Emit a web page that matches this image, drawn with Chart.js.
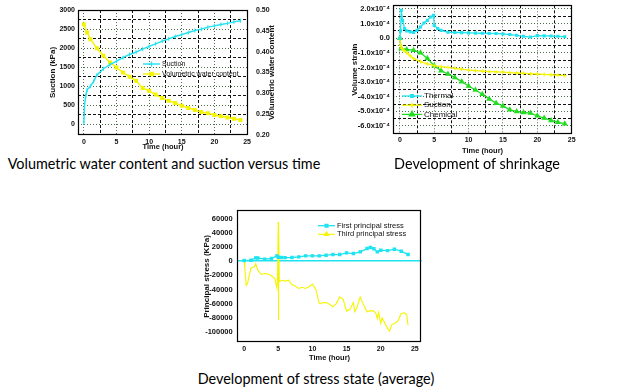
<!DOCTYPE html>
<html><head><meta charset="utf-8">
<script src="https://cdn.jsdelivr.net/npm/chart.js@4.4.0/dist/chart.umd.min.js"></script>
<style>
html,body{margin:0;padding:0;background:#fff;width:617px;height:387px;overflow:hidden;position:relative}
canvas{position:absolute}
.cap{position:absolute;font-family:Lato,'Liberation Sans',sans-serif;font-size:14.4px;color:#000;white-space:nowrap;transform:translate(-50%,-50%)}
</style></head><body>
<canvas id="c1" width="310" height="151" style="left:0;top:0"></canvas>
<canvas id="c2" width="250" height="155" style="left:330px;top:0"></canvas>
<canvas id="c3" width="235" height="157" style="left:195px;top:205px"></canvas>
<div class="cap" style="left:164px;top:163px">Volumetric water content and suction versus time</div>
<div class="cap" style="left:477px;top:163px">Development of shrinkage</div>
<div class="cap" style="left:316px;top:378px">Development of stress state (average)</div>
<script>
// ---------- Chart 1 data ----------
const c1SuctionTime = [0,0.1,0.3,0.5,1,1.5,2,3,4,5,6,7,8,9,10,11,12,13,14,15,16,17,18,19,20,21,22,23,24];
const c1Suction = [40,500,760,910,1000,1130,1300,1460,1570,1660,1750,1835,1895,1975,2045,2115,2185,2245,2305,2355,2410,2460,2500,2550,2585,2620,2650,2690,2720];
const c1VwcTime = [0,0.5,1,2,3,4,5,6,7,8,9,10,11,12,13,14,15,16,17,18,19,20,21,22,23,24];
const c1Vwc = [0.465,0.446,0.430,0.408,0.390,0.374,0.362,0.350,0.340,0.330,0.313,0.306,0.297,0.289,0.282,0.277,0.270,0.265,0.260,0.255,0.252,0.248,0.245,0.242,0.239,0.236];
const c1XTicks = [0,5,10,15,20,25];
const c1XMinor = [2.5,7.5,12.5,17.5,22.5];
const c1YTicks = [0,500,1000,1500,2000,2500,3000];
const c1YMinor = [250,750,1250,1750,2250,2750];
const c1Y2Ticks = [0.20,0.25,0.30,0.35,0.40,0.45,0.50];

// ---------- Chart 2 data (volume strain, x10^-4) ----------
const c2ThermalTime = [0,0.1,0.2,0.4,0.7,1,1.5,2,2.5,3,3.5,4,4.5,4.9,5.0,5.5,6,7,8,9,10,11,12,13,14,15,16,17,18,19,20,21,22,23,24];
const c2Thermal = [0,0.5,1.9,1.2,0.66,0.5,0.43,0.39,0.54,0.77,1.04,1.22,1.45,1.56,0.88,0.66,0.54,0.41,0.39,0.38,0.36,0.35,0.34,0.33,0.32,0.29,0.25,0.2,0.13,0.08,0.18,0.16,0.15,0.13,0.1];
const c2SuctionTime = [0,0.1,0.3,0.6,1,1.5,2,3,4,5,6,7,8,9,10,11,12,13,14,15,16,17,18,19,20,21,22,23,24];
const c2Suction = [0,-0.5,-0.7,-0.85,-1.0,-1.2,-1.4,-1.6,-1.76,-1.88,-1.95,-2.0,-2.06,-2.12,-2.18,-2.22,-2.25,-2.28,-2.3,-2.32,-2.36,-2.38,-2.4,-2.43,-2.45,-2.48,-2.5,-2.53,-2.56];
const c2ChemTime = [0,0.2,1,2,3,4,5,6,7,8,9,10,11,12,13,14,15,16,17,18,19,20,21,22,23,24];
const c2Chem = [0,-0.7,-0.77,-0.82,-1.0,-1.38,-1.88,-2.22,-2.45,-2.68,-2.97,-3.27,-3.54,-3.83,-4.15,-4.44,-4.63,-4.9,-5.01,-5.08,-5.12,-5.31,-5.46,-5.62,-5.74,-5.85];
const c2XTicks = [0,5,10,15,20,25];
const c2XMinor = [2.5,7.5,12.5,17.5,22.5];
const c2YTicks = [-6,-5,-4,-3,-2,-1,0,1,2];
const c2YMinor = [-6.5,-5.5,-4.5,-3.5,-2.5,-1.5,-0.5,0.5,1.5];

// ---------- Chart 3 data (kPa) ----------
const c3FirstTime = [0,1,1.7,2,3,4,4.8,5,5.5,6,7,8,9,10,11,12,13,14,15,16,17,18,18.5,19,19.5,20,21,22,23,24];
const c3First = [900,1400,4700,4500,2800,3800,7500,5500,5200,5000,5200,6100,7500,7500,7500,8500,9400,9400,11800,10800,13200,17900,19300,17500,13200,15500,15000,17000,14100,9400];
const c3ThirdTime = [0,0.1,0.3,0.5,0.8,1,1.5,1.7,2,2.5,3,3.5,4,4.5,4.8,4.9,5.0,5.03,5.06,5.15,5.5,6,6.5,7,7.5,8,8.5,9,9.5,10,10.5,11,11.5,12,12.5,13,13.5,14,14.5,15,15.5,16,16.2,16.5,17,17.5,18,18.5,19,19.3,19.5,19.7,20,20.2,20.5,21,21.3,21.6,22,22.5,23,23.5,23.8,24];
const c3Third = [1400,-10000,-34000,-31500,-18000,-10000,-8000,-3300,-12700,-18800,-17400,-18000,-20700,-24500,-38000,-20000,55500,-83300,48500,-29200,-27000,-28200,-26800,-33000,-35000,-38600,-37000,-38600,-36200,-32500,-40000,-59800,-59000,-58400,-61000,-64500,-60000,-50400,-54100,-70600,-68000,-58400,-71500,-66000,-50400,-62100,-71500,-70000,-70600,-74000,-81000,-72500,-88000,-80000,-85600,-95000,-98800,-90000,-88000,-85000,-73900,-73000,-76200,-90400];
const c3XTicks = [0,5,10,15,20,25];
const c3YTicks = [-100000,-80000,-60000,-40000,-20000,0,20000,40000,60000];

// ---------- helpers ----------
const FONT = "'Liberation Sans', Arial, sans-serif";
Chart.defaults.font.family = FONT;
Chart.defaults.color = '#111';
Chart.defaults.animation = false;
const CYAN = '#1fe3f0', YELLOW = '#f4f400', GREEN = '#22dd22';
const pts = (xs, ys) => xs.map((x, i) => ({x, y: ys[i]}));
const plain = v => String(v);
const fixTicks = vals => a => { a.ticks = vals.map(v => ({value: v})); };
const fitBox = size => a => {
  if (a.isHorizontal()) a.height = size; else a.width = size;
  a.paddingTop = a.paddingBottom = a.paddingLeft = a.paddingRight = 0;
};
function minorAxis(pos, min, max, vals) {
  return {type:'linear', position:pos, min, max, display:true,
    afterBuildTicks: fixTicks(vals), afterFit: fitBox(0),
    ticks:{display:false}, border:{display:false, dash:[3,2]},
    grid:{color:'#111', lineWidth:1, drawTicks:false}};
}
const framePlugin = {id:'frame', afterDraw(chart){
  const a = chart.chartArea, c = chart.ctx;
  c.save(); c.setLineDash([]); c.strokeStyle = '#000'; c.lineWidth = 1.2;
  c.strokeRect(Math.round(a.left)+0.5, Math.round(a.top)+0.5, Math.round(a.right-a.left)-1, Math.round(a.bottom-a.top)-1);
  c.restore();
}};
const legendPlugin = {id:'innerLegend', afterDraw(chart, args, o){
  if (!o || o.x === undefined) return;
  const c = chart.ctx;
  c.save();
  c.font = o.font; c.textBaseline = 'middle'; c.textAlign = 'left';
  chart.data.datasets.forEach((ds, i) => {
    const y = o.y + i*o.row;
    c.strokeStyle = ds.borderColor; c.lineWidth = ds.borderWidth || 1; c.setLineDash([]);
    c.beginPath(); c.moveTo(o.x, y); c.lineTo(o.x + o.len, y); c.stroke();
    c.fillStyle = ds.borderColor; c.strokeStyle = ds.borderColor;
    Chart.helpers.drawPoint(c, {pointStyle: ds.legendStyle || ds.pointStyle, radius: ds.legendRadius, borderWidth: 1, rotation: ds.pointRotation || 0}, o.x + o.len/2, y);
    c.fillStyle = '#111';
    c.fillText(ds.label, o.x + o.len + o.gap, y);
  });
  c.restore();
}};
const rightTitlePlugin = {id:'rightTitle', afterDraw(chart, args, o){
  if (!o || !o.text) return;
  const c = chart.ctx, a = chart.chartArea;
  c.save(); c.font = o.font; c.fillStyle = '#111'; c.textAlign = 'center'; c.textBaseline = 'middle';
  c.translate(o.x, (a.top + a.bottom)/2); c.rotate(-Math.PI/2); c.fillText(o.text, 0, 0);
  c.restore();
}};
const tickFont = {size:7, weight:'bold'};
const titleFont = {size:7.5, weight:'bold'};

// ---------- Chart 1 ----------
new Chart(document.getElementById('c1'), {
  type:'line',
  data:{datasets:[
    {label:'Suction', data:pts(c1SuctionTime, c1Suction), yAxisID:'y', borderColor:CYAN, backgroundColor:CYAN, borderWidth:1.4, pointStyle:'line', pointRotation:90, pointRadius:2, pointBorderWidth:1, legendRadius:2.5},
    {label:'Volumetric water content', data:pts(c1VwcTime, c1Vwc), yAxisID:'y1', borderColor:YELLOW, backgroundColor:YELLOW, borderWidth:1.4, pointStyle:'rect', pointRadius:1.8, legendRadius:2.2}
  ]},
  options:{responsive:false, animation:false,
    layout:{padding:{left:48, top:10, right:0, bottom:0}},
    plugins:{legend:{display:false}, tooltip:{enabled:false},
      innerLegend:{x:143, y:64, row:10, len:17, gap:2, font:'7px '+FONT},
      rightTitle:{text:'Volumetric water content', x:272, font:'bold 8px '+FONT}},
    scales:{
      x:{type:'linear', min:-0.9, max:25.15, afterBuildTicks:fixTicks(c1XTicks), afterFit:fitBox(16),
        ticks:{font:tickFont, padding:2.5, maxRotation:0, callback:plain}, border:{display:false, dash:[1,2]},
        grid:{color:'#4d6d4d', drawTicks:false},
        title:{display:true, text:'Time (hour)', font:titleFont, padding:0}},
      xm:minorAxis('bottom', -0.9, 25.15, c1XMinor),
      y:{type:'linear', position:'left', min:-275, max:3000, afterBuildTicks:fixTicks(c1YTicks), afterFit:fitBox(30),
        ticks:{font:tickFont, padding:3, callback:plain}, border:{display:false, dash:[1,2]},
        grid:{color:'#4d6d4d', drawTicks:false},
        title:{display:true, text:'Suction (kPa)', font:{size:8, weight:'bold'}, padding:0}},
      ym:minorAxis('left', -275, 3000, c1YMinor),
      y1:{type:'linear', position:'right', min:0.2, max:0.5, afterBuildTicks:fixTicks(c1Y2Ticks), afterFit:fitBox(62),
        ticks:{font:tickFont, padding:8, callback:v => v.toFixed(2)}, border:{display:false},
        grid:{drawOnChartArea:false, drawTicks:false}}
    }},
  plugins:[framePlugin, legendPlugin, rightTitlePlugin]
});

// ---------- Chart 2 ----------
const fmtStrain = v => v === 0 ? '0.0' : v.toFixed(1) + 'x10\u207B\u2074';
new Chart(document.getElementById('c2'), {
  type:'line',
  data:{datasets:[
    {label:'Thermal', data:pts(c2ThermalTime, c2Thermal), borderColor:CYAN, backgroundColor:CYAN, borderWidth:1.3, pointStyle:'rect', pointRadius:1.3, legendRadius:1.8},
    {label:'Suction', data:pts(c2SuctionTime, c2Suction), borderColor:YELLOW, backgroundColor:YELLOW, borderWidth:1.3, pointStyle:'cross', pointRadius:2, pointBorderWidth:1, legendRadius:2.5},
    {label:'Chemical', data:pts(c2ChemTime, c2Chem), borderColor:GREEN, backgroundColor:GREEN, borderWidth:1.3, pointStyle:'triangle', pointRadius:2.2, legendRadius:3}
  ]},
  options:{responsive:false, animation:false,
    layout:{padding:{left:20, top:5, right:8, bottom:0}},
    plugins:{legend:{display:false}, tooltip:{enabled:false},
      innerLegend:{x:72, y:96, row:9.2, len:20, gap:2, font:'8px '+FONT}},
    scales:{
      x:{type:'linear', min:-1, max:25.05, afterBuildTicks:fixTicks(c2XTicks), afterFit:fitBox(21),
        ticks:{font:tickFont, padding:2, maxRotation:0, callback:plain}, border:{display:false, dash:[1,2]},
        grid:{color:'#4d6d4d', drawTicks:false},
        title:{display:true, text:'Time (hour)', font:titleFont, padding:0}},
      xm:minorAxis('bottom', -1, 25.05, c2XMinor),
      y:{type:'linear', position:'left', min:-6.55, max:2.25, afterBuildTicks:fixTicks(c2YTicks), afterFit:fitBox(43),
        ticks:{font:{size:7.5, weight:'bold'}, padding:3, callback:fmtStrain}, border:{display:false, dash:[1,2]},
        grid:{color:'#4d6d4d', drawTicks:false},
        title:{display:true, text:'Volume strain', font:{size:8, weight:'bold'}, padding:0}},
      ym:minorAxis('left', -6.55, 2.25, c2YMinor)
    }},
  plugins:[framePlugin, legendPlugin]
});

// ---------- Chart 3 ----------
new Chart(document.getElementById('c3'), {
  type:'line',
  data:{datasets:[
    {label:'First principal stress', data:pts(c3FirstTime, c3First), borderColor:CYAN, backgroundColor:CYAN, borderWidth:1.3, pointStyle:'rect', pointRadius:1.5, legendRadius:2},
    {label:'Third principal stress', data:pts(c3ThirdTime, c3Third), borderColor:YELLOW, backgroundColor:YELLOW, borderWidth:1.1, pointStyle:'triangle', pointRadius:0, legendStyle:'triangle', legendRadius:2.5}
  ]},
  options:{responsive:false, animation:false,
    layout:{padding:{left:7, top:5, right:8.3, bottom:0}},
    plugins:{legend:{display:false}, tooltip:{enabled:false},
      innerLegend:{x:123, y:20.7, row:8.6, len:17, gap:2, font:'7.5px '+FONT}},
    scales:{
      x:{type:'linear', min:-1, max:26, afterBuildTicks:fixTicks(c3XTicks), afterFit:fitBox(19.3),
        ticks:{font:tickFont, padding:2.3, maxRotation:0, callback:plain}, border:{display:false},
        grid:{display:false, drawTicks:false},
        title:{display:true, text:'Time (hour)', font:titleFont, padding:0}},
      y:{type:'linear', position:'left', min:-115300, max:72000, afterBuildTicks:fixTicks(c3YTicks), afterFit:fitBox(35.3),
        ticks:{font:{size:7.5, weight:'bold'}, padding:4.6, callback:plain}, border:{display:false},
        grid:{drawTicks:false, lineWidth:1.5, color:ctx => (ctx.tick && ctx.tick.value === 0) ? CYAN : 'rgba(0,0,0,0)'},
        title:{display:true, text:'Principal stress (KPa)', font:{size:8, weight:'bold'}, padding:0}}
    }},
  plugins:[framePlugin, legendPlugin]
});
</script>
</body></html>
